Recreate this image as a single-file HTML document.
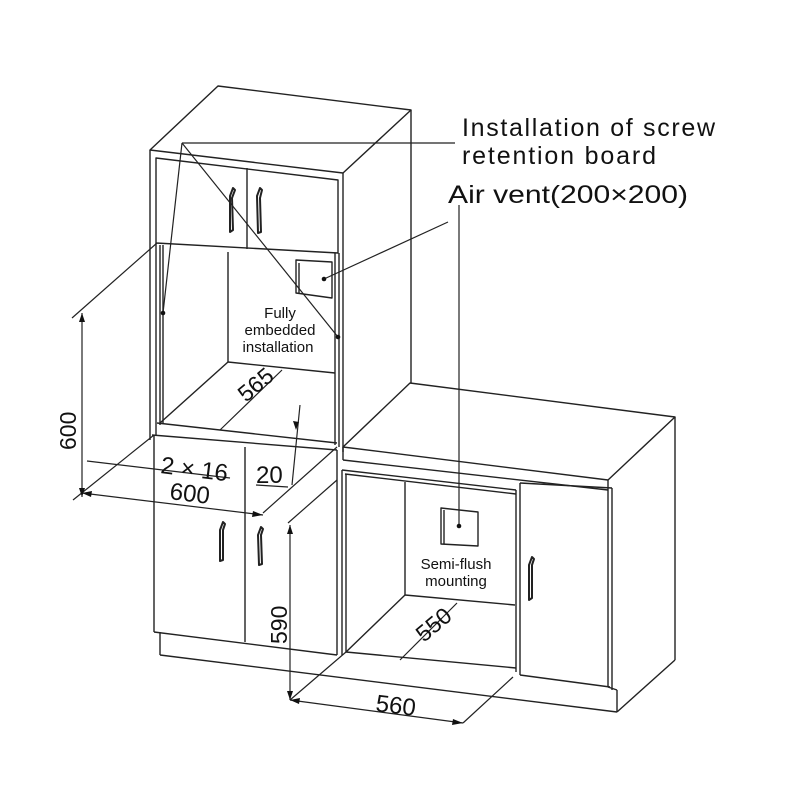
<!DOCTYPE html>
<html><head><meta charset="utf-8"><style>
html,body{margin:0;padding:0;background:#fff;}
svg{display:block}
text{font-family:"Liberation Sans",sans-serif;fill:#111}
</style></head><body>
<svg width="800" height="800" viewBox="0 0 800 800" xmlns="http://www.w3.org/2000/svg">
<g fill="none" stroke="#222" stroke-width="1.4" stroke-linejoin="round">
<polygon points="150,150 218,86 411,110 343,173" fill="#fff"/>
<line x1="150" y1="150" x2="150" y2="440"/>
<line x1="343" y1="173" x2="343" y2="452"/>
<line x1="411" y1="110" x2="411" y2="384"/>
<polygon points="156,158 338,180 338,253 156,243"/>
<line x1="247" y1="168" x2="247" y2="249"/>
<path d="M230,196 L233,188 L235,190 L232,198 L233,230 L230,232 Z" stroke-width="2"/>
<path d="M257,196 L260,188 L262,190 L260,198 L261,232 L258,233 Z" stroke-width="2"/>
<line x1="156" y1="243" x2="156" y2="435"/>
<line x1="160" y1="245" x2="160" y2="425"/>
<line x1="163" y1="245" x2="163" y2="423"/>
<line x1="228" y1="252" x2="228" y2="362"/>
<line x1="228" y1="362" x2="335" y2="373"/>
<line x1="228" y1="362" x2="160" y2="423"/>
<line x1="335" y1="253" x2="335" y2="445"/>
<line x1="339" y1="253" x2="339" y2="447"/>
<line x1="157" y1="423" x2="337" y2="443"/>
<line x1="152" y1="435" x2="337" y2="450"/>
<polygon points="296,260 332,262 332,298 296,293"/>
<line x1="299" y1="263" x2="299" y2="293"/>
<line x1="154" y1="435" x2="154" y2="632"/>
<line x1="245" y1="447" x2="245" y2="642"/>
<line x1="337" y1="450" x2="337" y2="655"/>
<line x1="154" y1="632" x2="337" y2="655"/>
<path d="M220,530 L223,522 L225,524 L223,530 L223,560 L220,561 Z" stroke-width="2"/>
<path d="M258,535 L261,527 L263,529 L261,535 L262,564 L259,565 Z" stroke-width="2"/>
<line x1="160" y1="632" x2="160" y2="655"/>
<line x1="160" y1="655" x2="617" y2="712"/>
<polygon points="343,447 410,383 675,417 608,480" fill="#fff"/>
<line x1="343" y1="447" x2="343" y2="460"/>
<line x1="343" y1="460" x2="608" y2="490"/>
<line x1="608" y1="480" x2="608" y2="490"/>
<line x1="675" y1="417" x2="675" y2="660"/>
<line x1="675" y1="660" x2="617" y2="712"/>
<line x1="612" y1="488" x2="612" y2="690"/>
<line x1="608" y1="490" x2="608" y2="687"/>
<line x1="608" y1="687" x2="617" y2="690"/>
<line x1="617" y1="690" x2="617" y2="712"/>
<line x1="342" y1="470" x2="516" y2="490"/>
<line x1="345" y1="474" x2="516" y2="494"/>
<line x1="342" y1="470" x2="342" y2="655"/>
<line x1="346" y1="474" x2="346" y2="652"/>
<line x1="405" y1="482" x2="405" y2="595"/>
<line x1="405" y1="595" x2="515" y2="605"/>
<line x1="405" y1="595" x2="346" y2="652"/>
<line x1="516" y1="490" x2="516" y2="672"/>
<line x1="520" y1="483" x2="520" y2="675"/>
<line x1="346" y1="652" x2="516" y2="668"/>
<line x1="520" y1="675" x2="610" y2="687"/>
<line x1="520" y1="483" x2="612" y2="488"/>
<path d="M529,565 L532,557 L534,559 L532,565 L532,598 L529,600 Z" stroke-width="2"/>
<polygon points="441,508 478,512 478,546 441,544"/>
<line x1="444" y1="510" x2="444" y2="544"/>
</g>
<g stroke="#222" stroke-width="1.2" fill="none">
<line x1="182" y1="143" x2="455" y2="143"/>
<line x1="182" y1="143" x2="163" y2="313"/>
<line x1="182" y1="143" x2="338" y2="337"/>
<line x1="324" y1="279" x2="448" y2="222"/>
<line x1="459" y1="205" x2="459" y2="526"/>
<line x1="82" y1="313" x2="82" y2="497"/>
<line x1="72" y1="318" x2="157" y2="243"/>
<line x1="73" y1="500" x2="154" y2="435"/>
<line x1="263" y1="513" x2="337" y2="447"/>
<line x1="87" y1="461" x2="230" y2="478"/>
<line x1="82" y1="493" x2="263" y2="515"/>
<line x1="300" y1="405" x2="292" y2="485"/>
<line x1="256" y1="485" x2="288" y2="487"/>
<line x1="220" y1="430" x2="282" y2="370"/>
<line x1="288" y1="523" x2="337" y2="480"/>
<line x1="290" y1="525" x2="290" y2="700"/>
<line x1="290" y1="700" x2="346" y2="652"/>
<line x1="290" y1="700" x2="463" y2="723"/>
<line x1="463" y1="723" x2="513" y2="677"/>
<line x1="400" y1="660" x2="457" y2="603"/>
</g>
<g fill="#111">
<circle cx="163" cy="313" r="2.3"/><circle cx="338" cy="337" r="2.3"/>
<circle cx="324" cy="279" r="2.3"/><circle cx="459" cy="526" r="2.3"/>
<polygon points="82,313 79,322 85,322"/><polygon points="82,497 79,488 85,488"/>
<polygon points="290,525 287,534 293,534"/><polygon points="290,700 287,691 293,691"/>
<polygon points="82,493 92,491 91,497"/><polygon points="263,515 253,511 252,517"/>
<polygon points="290,700 300,698 299,704"/><polygon points="463,723 453,719 452,725"/>
<polygon points="296,430 293,421 299,422"/>
</g>
<text x="462" y="136" font-size="25" textLength="253" lengthAdjust="spacing">Installation of screw</text>
<text x="462" y="164" font-size="25" textLength="194" lengthAdjust="spacing">retention board</text>
<text x="448" y="203" font-size="25" textLength="240" lengthAdjust="spacingAndGlyphs">Air vent(200×200)</text>
<text x="280" y="318" font-size="15" text-anchor="middle">Fully</text>
<text x="280" y="335" font-size="15" text-anchor="middle">embedded</text>
<text x="278" y="352" font-size="15" text-anchor="middle">installation</text>
<text x="456" y="569" font-size="15" text-anchor="middle">Semi-flush</text>
<text x="456" y="586" font-size="15" text-anchor="middle">mounting</text>
<text font-size="23" transform="translate(246,403) rotate(-40)">565</text>
<text font-size="23" transform="translate(76,450) rotate(-90)">600</text>
<text font-size="24" transform="translate(160,473) rotate(7)">2 × 16</text>
<text font-size="24" transform="translate(169,499) rotate(7)">600</text>
<text font-size="24" x="256" y="483">20</text>
<text font-size="23" transform="translate(287,644) rotate(-90)">590</text>
<text font-size="23" transform="translate(424,643) rotate(-40)">550</text>
<text font-size="24" transform="translate(375,711) rotate(7)">560</text>
</svg>
</body></html>
